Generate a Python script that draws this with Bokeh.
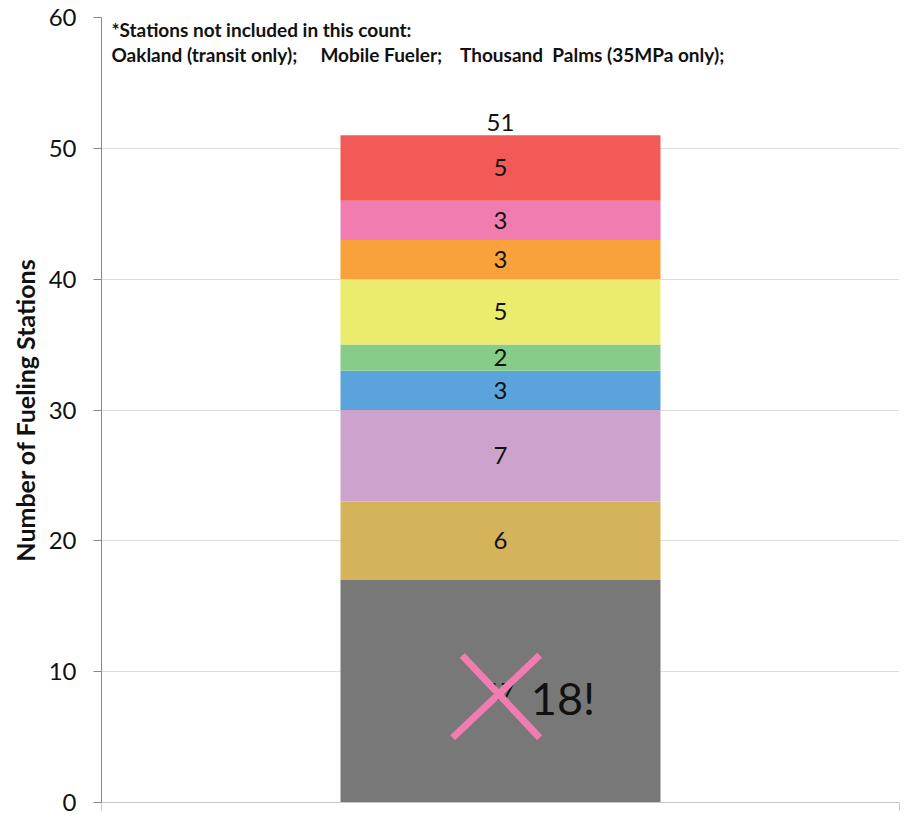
from bokeh.plotting import figure
from bokeh.models import Range1d, FixedTicker, PolyAnnotation
from bokeh.core.properties import value
from bokeh.embed import file_html
from bokeh.resources import INLINE

# ---- data ----
segment_values = [17, 6, 7, 3, 2, 5, 3, 3, 5]
segment_colors = ["#787878", "#D4B35A", "#CDA3CD", "#5BA3DB", "#88CC8A",
                  "#EBEB6E", "#F9A23C", "#F17CB0", "#F15A57"]
segment_labels = [str(v) for v in segment_values]
total_label = str(sum(segment_values))
y_ticks = [0, 10, 20, 30, 40, 50, 60]
NB = "\u00a0"
note_lines = ["*Stations not included in this count:",
              "Oakland (transit only);" + NB * 5 + "Mobile Fueler;" + NB * 4
              + "Thousand" + NB * 2 + "Palms (35MPa only);"]
correction_text = "18!"

FONT = "Lato"

bottoms = []
acc = 0
for v in segment_values:
    bottoms.append(acc)
    acc += v
tops = [b + v for b, v in zip(bottoms, segment_values)]
mids = [(b + t) / 2 for b, t in zip(bottoms, tops)]

p = figure(width=904, height=815, output_backend="svg", toolbar_location=None,
           x_range=Range1d(0, 1), y_range=Range1d(0, 60),
           min_border_left=101, min_border_right=5, min_border_top=17, min_border_bottom=13)
p.outline_line_color = None
p.background_fill_color = "white"
p.border_fill_color = "white"

# bars
bar_x = 0.5
bar_w = 0.401
p.vbar(x=[bar_x] * len(segment_values), width=bar_w, bottom=bottoms, top=tops,
       fill_color=segment_colors, line_color=None)

# segment labels
p.text(x=[bar_x] * len(segment_values), y=mids, text=segment_labels,
       text_font=value(FONT), text_font_size="24px", text_color="#111111",
       text_align="center", text_baseline="middle")
p.text(x=[bar_x], y=[tops[-1] + 1.0], text=[total_label],
       text_font=value(FONT), text_font_size="24px", text_color="#111111",
       text_align="center", text_baseline="middle")

# crossed-out annotation on the bottom segment
p.segment(x0=[0.440, 0.452], y0=[4.95, 11.25], x1=[0.549, 0.549], y1=[11.25, 4.95],
          line_color="#F17CB0", line_width=7)
p.text(x=[0.538], y=[8.0], text=[correction_text],
       text_font=value(FONT), text_font_size="45px", text_color="#111111",
       text_align="left", text_baseline="middle")

# note text
p.text(x=[0.0125, 0.0125], y=[59.05, 57.15], text=note_lines,
       text_font=value(FONT), text_font_size="19px", text_font_style="bold",
       text_color="#111111", text_align="left", text_baseline="middle")

# axes
p.yaxis.ticker = FixedTicker(ticks=y_ticks)
p.yaxis.axis_label = "Number of Fueling Stations"
p.yaxis.axis_label_text_font = FONT
p.yaxis.axis_label_text_font_size = "25px"
p.yaxis.axis_label_text_font_style = "bold"
p.yaxis.axis_label_text_color = "#111111"
p.yaxis.axis_label_standoff = 6
p.yaxis.major_label_text_font = FONT
p.yaxis.major_label_text_font_size = "24px"
p.yaxis.major_label_text_color = "#111111"
p.yaxis.major_label_standoff = 17
p.yaxis.axis_line_color = "#898989"
p.yaxis.major_tick_line_color = "#898989"
p.yaxis.major_tick_out = 8
p.yaxis.major_tick_in = 0
p.yaxis.minor_tick_line_color = None

p.xaxis.ticker = FixedTicker(ticks=[0, 1])
p.xaxis.major_label_overrides = {0: "", 1: ""}
p.xaxis.major_label_text_font_size = "1px"
p.xaxis.major_label_standoff = 0
p.xaxis.axis_line_color = "#C8C8C8"
p.xaxis.major_tick_line_color = "#C8C8C8"
p.xaxis.major_tick_out = 8
p.xaxis.major_tick_in = 0
p.xaxis.minor_tick_line_color = None

p.xgrid.grid_line_color = None
p.ygrid.ticker = FixedTicker(ticks=y_ticks)
p.ygrid.grid_line_color = "#DDDDDD"

# small teal marker at the left edge (screen units relative to frame's bottom-left)
p.add_layout(PolyAnnotation(xs=[-101, -93, -101], ys=[303, 292, 281], xs_units="screen", ys_units="screen",
                            fill_color="#4BACC6", fill_alpha=1, line_color=None))

open("out.html", "w").write(file_html(p, INLINE))
